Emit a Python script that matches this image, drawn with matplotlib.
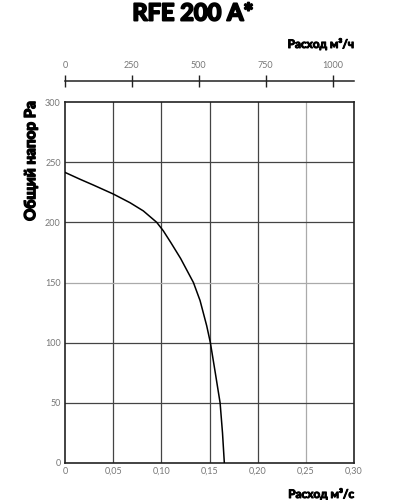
import matplotlib
matplotlib.use("Agg")
import matplotlib.pyplot as plt
import matplotlib.patheffects as pe

# Data
flow_m3s = [0.0, 0.0156, 0.0294, 0.0502, 0.0675, 0.0813, 0.0952, 0.102, 0.110, 0.120,
            0.1333, 0.1402, 0.1471, 0.1509, 0.156, 0.161, 0.1635, 0.1654]
pressure_pa = [241.5, 235.8, 231, 223.5, 216.3, 209.5, 200, 193, 183, 170,
               150, 135, 114, 100, 75, 50, 25, 0]

x_ticks = [0, 0.05, 0.10, 0.15, 0.20, 0.25, 0.30]
x_tick_labels = ["0", "0,05", "0,10", "0,15", "0,20", "0,25", "0,30"]
y_ticks = [0, 50, 100, 150, 200, 250, 300]
top_ticks = [0, 250, 500, 750, 1000]
top_tick_labels = ["0", "250", "500", "750", "1000"]

title = "RFE 200 A*"
y_label = "Общий напор Pa"
top_label = "Расход м³/ч"
bottom_label = "Расход м³/с"

plt.rcParams['font.family'] = ['Lato', 'DejaVu Sans']

W, H = 397, 500
fig = plt.figure(figsize=(W / 100, H / 100), dpi=100)
fig.patch.set_facecolor("white")

L, R, T, B = 65, 354, 102, 463
ax = fig.add_axes([L / W, 1 - B / H, (R - L) / W, (B - T) / H])
ax.set_xlim(0, 0.30)
ax.set_ylim(0, 300)

grid_col = "#444444"
light_col = "#aaaaaa"
for xv in x_ticks[1:-1]:
    ax.axvline(xv, color=light_col if abs(xv - 0.25) < 1e-9 else grid_col, lw=0.9, zorder=1)
for yv in y_ticks[1:-1]:
    ax.axhline(yv, color=light_col if yv == 150 else grid_col, lw=0.9, zorder=1)

ax.plot(flow_m3s, pressure_pa, color="black", lw=1.1, zorder=3,
        solid_joinstyle="round")

ax.set_xticks(x_ticks)
ax.set_xticklabels(x_tick_labels)
ax.set_yticks(y_ticks)
ax.tick_params(axis="both", length=0, labelsize=6.5, labelcolor="#777777", pad=3)
for s in ax.spines.values():
    s.set_color("#222222")
    s.set_linewidth(1.2)

# Top secondary axis (m3/h)
top_y = 81
ax2 = fig.add_axes([L / W, 1 - top_y / H, (R - L) / W, 0.0001])
ax2.set_xlim(0, 1080)
ax2.set_ylim(0, 1)
for k in ["left", "right", "bottom"]:
    ax2.spines[k].set_visible(False)
ax2.spines["top"].set_color("#222222")
ax2.spines["top"].set_linewidth(1.1)
ax2.set_yticks([])
ax2.xaxis.set_ticks_position("top")
ax2.set_xticks(top_ticks)
ax2.set_xticklabels(top_tick_labels)
ax2.tick_params(axis="x", direction="inout", length=8, width=1.0, color="#222222",
                labelsize=6.5, labelcolor="#777777", pad=4)
ax2.patch.set_visible(False)

heavy = [pe.withStroke(linewidth=1.4, foreground="black")]
mid = [pe.withStroke(linewidth=1.0, foreground="black")]
semi = [pe.withStroke(linewidth=0.7, foreground="black")]

fig.text(193 / W, 1 - 13 / H, title, ha="center", va="center", fontsize=17,
         fontweight="bold", color="black", path_effects=heavy)
fig.text(R / W, 1 - 44 / H, top_label, ha="right", va="center", fontsize=8.5,
         fontweight="bold", color="black", path_effects=semi)
fig.text(R / W, 1 - 494 / H, bottom_label, ha="right", va="center", fontsize=8.5,
         fontweight="bold", color="black", path_effects=semi)
fig.text(31 / W, 1 - 161 / H, y_label, ha="center", va="center", rotation=90,
         fontsize=11, fontweight="bold", color="black", path_effects=mid)

fig.savefig("out.png", dpi=100, facecolor="white")
